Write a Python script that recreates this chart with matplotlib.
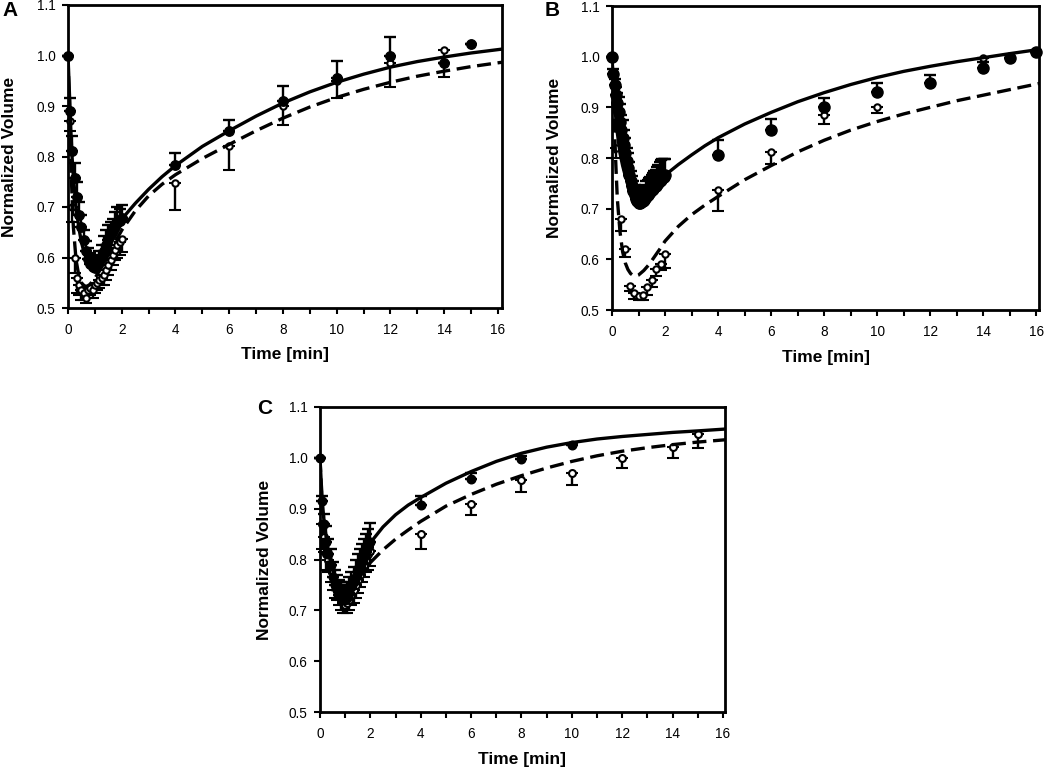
import matplotlib
matplotlib.use("Agg")
import matplotlib.pyplot as plt
import numpy as np

plt.rcParams['font.family'] = ['Liberation Sans', 'DejaVu Sans']

# ---------------- data ----------------
# dense early sampling (min)
t_early = [0.0, 0.083, 0.167, 0.25, 0.333, 0.417, 0.5, 0.583, 0.667, 0.75, 0.833, 0.917,
           1.0, 1.083, 1.167, 1.25, 1.333, 1.417, 1.5, 1.583, 1.667, 1.75, 1.833, 1.917, 2.0]
t_late = [4, 6, 8, 10, 12, 14, 15]

# model curve sample times
t_model = [0, 0.05, 0.1, 0.15, 0.2, 0.3, 0.4, 0.5, 0.6, 0.7, 0.8, 0.9, 1.0, 1.2, 1.4, 1.6,
           1.8, 2.0, 2.5, 3, 3.5, 4, 5, 6, 7, 8, 9, 10, 11, 12, 13, 14, 15, 16.2]

# ---- Panel A ----
A_model_solid = [1.0, 0.93, 0.86, 0.80, 0.76, 0.70, 0.66, 0.63, 0.61, 0.597, 0.59, 0.587, 0.588,
                 0.598, 0.615, 0.635, 0.656, 0.676, 0.707, 0.735, 0.760, 0.782, 0.82, 0.851, 0.880,
                 0.906, 0.928, 0.947, 0.963, 0.977, 0.988, 0.997, 1.005, 1.013]
A_model_dashed = [1.0, 0.90, 0.80, 0.72, 0.66, 0.595, 0.565, 0.55, 0.544, 0.543, 0.546, 0.552, 0.559,
                  0.576, 0.595, 0.615, 0.635, 0.654, 0.692, 0.722, 0.745, 0.764, 0.796, 0.824, 0.851,
                  0.876, 0.898, 0.917, 0.933, 0.947, 0.959, 0.969, 0.978, 0.987]
A_filled_t = t_early + t_late
A_filled = [1.0, 0.89, 0.81, 0.757, 0.72, 0.685, 0.66, 0.635, 0.612, 0.598, 0.588, 0.582, 0.58,
            0.585, 0.592, 0.60, 0.612, 0.625, 0.635, 0.645, 0.652, 0.66, 0.668, 0.672, 0.678,
            0.783, 0.85, 0.91, 0.955, 1.0, 0.985, 1.022]
A_filled_err = [0, 0.025, 0.03, 0.03, 0.03, 0.025, 0.025, 0.02, 0.02, 0.02, 0.02, 0.02, 0.02,
                0.02, 0.02, 0.025, 0.03, 0.03, 0.03, 0.025, 0.025, 0.03, 0.032, 0.025, 0.025,
                0.023, 0.023, 0.03, 0.035, 0.037, 0.0, 0.0]
A_open_t = t_early + [4, 6, 8, 10, 12, 14]
A_open = [1.0, 0.87, 0.70, 0.60, 0.56, 0.545, 0.535, 0.53, 0.52, 0.535, 0.54, 0.535, 0.545,
          0.55, 0.555, 0.56, 0.565, 0.575, 0.585, 0.595, 0.605, 0.615, 0.625, 0.63, 0.636,
          0.748, 0.82, 0.90, 0.95, 0.985, 1.01]
A_open_err = [0, 0.02, 0.03, 0.03, 0.03, 0.02, 0.02, 0.015, 0.01, 0.015, 0.015, 0.015, 0.015,
              0.015, 0.015, 0.015, 0.02, 0.02, 0.02, 0.02, 0.02, 0.02, 0.025, 0.025, 0.025,
              0.053, 0.047, 0.038, 0.035, 0.048, 0.052]

# ---- Panel B ----
B_model_solid = [1.0, 0.95, 0.91, 0.875, 0.85, 0.81, 0.785, 0.765, 0.752, 0.743, 0.738, 0.736,
                 0.736, 0.739, 0.745, 0.752, 0.759, 0.766, 0.787, 0.806, 0.824, 0.840, 0.867, 0.890,
                 0.911, 0.929, 0.945, 0.959, 0.971, 0.981, 0.990, 0.998, 1.006, 1.015]
B_model_dashed = [1.0, 0.93, 0.85, 0.78, 0.72, 0.655, 0.615, 0.593, 0.58, 0.572, 0.568, 0.567,
                  0.569, 0.578, 0.59, 0.605, 0.62, 0.636, 0.665, 0.688, 0.707, 0.724, 0.757, 0.785,
                  0.812, 0.835, 0.855, 0.872, 0.887, 0.900, 0.913, 0.924, 0.935, 0.948]
B_filled_t = [0.0, 0.05, 0.1, 0.15, 0.2, 0.25, 0.3, 0.35, 0.4, 0.45, 0.5, 0.55, 0.6, 0.65, 0.7,
              0.75, 0.8, 0.85, 0.9, 0.95, 1.0, 1.05, 1.1, 1.15, 1.2, 1.25, 1.3, 1.35, 1.4, 1.45,
              1.5, 1.55, 1.6, 1.65, 1.7, 1.75, 1.8, 1.85, 1.9, 1.95, 2.0,
              4, 6, 8, 10, 12, 14, 15, 16]
B_filled = [1.0, 0.965, 0.945, 0.925, 0.908, 0.89, 0.872, 0.855, 0.84, 0.825, 0.81, 0.795, 0.78,
            0.767, 0.755, 0.745, 0.735, 0.727, 0.72, 0.715, 0.712, 0.712, 0.713, 0.715, 0.718,
            0.721, 0.724, 0.727, 0.73, 0.733, 0.736, 0.739, 0.742, 0.745, 0.748, 0.751, 0.754,
            0.757, 0.76, 0.763, 0.766,
            0.805, 0.855, 0.90, 0.93, 0.948, 0.978, 0.997, 1.01]
B_filled_err = [0, 0.01, 0.01, 0.015, 0.02, 0.03, 0.035, 0.03, 0.035, 0.03, 0.03, 0.025, 0.03,
                0.025, 0.02, 0.02, 0.02, 0.02, 0.02, 0.02, 0.02, 0.02, 0.025, 0.025, 0.025,
                0.025, 0.03, 0.03, 0.03, 0.03, 0.03, 0.032, 0.032, 0.032, 0.035, 0.035, 0.038,
                0.04, 0.038, 0.035, 0.033,
                0.03, 0.022, 0.018, 0.018, 0.015, 0.012, 0.0, 0.0]
B_open_t = [0.0, 0.167, 0.333, 0.5, 0.667, 0.833, 1.0, 1.167, 1.333, 1.5, 1.667, 1.833, 2.0,
            4, 6, 8, 10, 14]
B_open = [1.0, 0.82, 0.68, 0.62, 0.548, 0.533, 0.528, 0.53, 0.545, 0.56, 0.58, 0.59, 0.61,
          0.737, 0.812, 0.885, 0.90, 0.998]
B_open_err = [0, 0.02, 0.025, 0.015, 0.01, 0.012, 0.008, 0.01, 0.015, 0.015, 0.012, 0.012, 0.027,
              0.041, 0.023, 0.017, 0.012, 0.0]

# ---- Panel C ----
C_model_solid = [1.0, 0.95, 0.91, 0.88, 0.86, 0.825, 0.80, 0.78, 0.765, 0.752, 0.745, 0.742,
                 0.742, 0.755, 0.774, 0.795, 0.815, 0.833, 0.864, 0.888, 0.907, 0.922, 0.950, 0.973,
                 0.993, 1.009, 1.021, 1.030, 1.037, 1.042, 1.046, 1.050, 1.053, 1.057]
C_model_dashed = [1.0, 0.94, 0.89, 0.855, 0.83, 0.795, 0.77, 0.752, 0.74, 0.733, 0.73, 0.73,
                  0.732, 0.741, 0.754, 0.768, 0.781, 0.794, 0.819, 0.840, 0.858, 0.875, 0.905, 0.928,
                  0.948, 0.965, 0.980, 0.993, 1.004, 1.013, 1.020, 1.026, 1.031, 1.036]
C_filled_t = t_early + [4, 6, 8, 10]
C_filled = [1.0, 0.915, 0.87, 0.835, 0.81, 0.79, 0.765, 0.75, 0.74, 0.73, 0.725, 0.72, 0.72,
            0.725, 0.735, 0.745, 0.755, 0.765, 0.775, 0.785, 0.795, 0.805, 0.815, 0.825, 0.835,
            0.908, 0.958, 0.998, 1.025]
C_filled_err = [0, 0.01, 0.02, 0.03, 0.03, 0.03, 0.03, 0.03, 0.03, 0.03, 0.03, 0.03, 0.03,
                0.03, 0.03, 0.03, 0.03, 0.035, 0.035, 0.035, 0.035, 0.035, 0.035, 0.035, 0.037,
                0.017, 0.012, 0.005, 0.003]
C_open_t = t_early + [4, 6, 8, 10, 12, 14, 15]
C_open = [1.0, 0.87, 0.845, 0.81, 0.80, 0.78, 0.765, 0.75, 0.74, 0.73, 0.72, 0.715, 0.71,
          0.715, 0.72, 0.73, 0.74, 0.75, 0.76, 0.77, 0.78, 0.79, 0.80, 0.81, 0.817,
          0.85, 0.91, 0.956, 0.97, 1.0, 1.022, 1.047]
C_open_err = [0, 0.05, 0.03, 0.03, 0.025, 0.025, 0.025, 0.025, 0.02, 0.02, 0.02, 0.02, 0.015,
              0.02, 0.02, 0.02, 0.025, 0.025, 0.025, 0.025, 0.025, 0.025, 0.025, 0.03, 0.03,
              0.03, 0.022, 0.023, 0.023, 0.02, 0.022, 0.027]

x_ticks = [0, 2, 4, 6, 8, 10, 12, 14, 16]
y_ticks = [0.5, 0.6, 0.7, 0.8, 0.9, 1.0, 1.1]
y_ticklabels = ['0.5', '0.6', '0.7', '0.8', '0.9', '1.0', '1.1']

# ---------------- figure ----------------
W, H = 1050, 771
fig = plt.figure(figsize=(W / 100, H / 100), dpi=100)


def px_axes(left, top, right, bottom):
    return fig.add_axes([left / W, 1 - bottom / H, (right - left) / W, (bottom - top) / H])


def draw_panel(ax, xmax, ms_f, ms_o, ft, fv, fe, ot, ov, oe, ms_solid, ms_dash):
    zeros_f = [0] * len(fe)
    zeros_o = [0] * len(oe)
    ax.errorbar(ot, ov, yerr=[oe, zeros_o], fmt='o', ms=ms_o, mfc='white', mec='black',
                mew=1.5, ecolor='black', elinewidth=1.7, capsize=4.2, capthick=1.7,
                color='black', zorder=3, clip_on=False)
    ax.errorbar(ft, fv, yerr=[zeros_f, fe], fmt='o', ms=ms_f, mfc='black', mec='black',
                ecolor='black', elinewidth=1.7, capsize=4.2, capthick=1.7,
                color='black', zorder=4, clip_on=False)
    ax.plot(t_model, ms_solid, color='black', lw=2.4, zorder=5)
    ax.plot(t_model, ms_dash, color='black', lw=2.4, dashes=(4.2, 2), zorder=5)
    ax.set_xlim(0, xmax)
    ax.set_ylim(0.5, 1.1)
    ax.set_xticks(x_ticks)
    ax.set_xticks(list(range(0, 17)), minor=True)
    ax.set_yticks(y_ticks)
    ax.set_yticklabels(y_ticklabels)
    ax.tick_params(axis='both', which='both', direction='out', length=4, width=1.5,
                   labelsize=9.8, colors='black')
    ax.tick_params(axis='x', which='both', pad=6.5)
    ax.tick_params(axis='y', which='both', pad=5)
    for s in ax.spines.values():
        s.set_linewidth(2.0)
    ax.set_xlabel('Time [min]', fontsize=12.5, fontweight='bold')
    ax.set_ylabel('Normalized Volume', fontsize=12.5, fontweight='bold')
    ax.xaxis.set_label_coords(0.5, -0.13)
    ax.yaxis.set_label_coords(-0.118, 0.5)


axA = px_axes(68, 5, 502, 308)
draw_panel(axA, 16.15, 6.8, 4.6, A_filled_t, A_filled, A_filled_err,
           A_open_t, A_open, A_open_err, A_model_solid, A_model_dashed)

axB = px_axes(612, 6, 1039, 310)
draw_panel(axB, 16.1, 8, 4.6, B_filled_t, B_filled, B_filled_err,
           B_open_t, B_open, B_open_err, B_model_solid, B_model_dashed)

axC = px_axes(320, 407, 725, 712)
draw_panel(axC, 16.08, 6.2, 5, C_filled_t, C_filled, C_filled_err,
           C_open_t, C_open, C_open_err, C_model_solid, C_model_dashed)

fig.text(2 / W, 1 - 1 / H, 'A', fontsize=15, fontweight='bold', ha='left', va='top')
fig.text(545 / W, 1 - 1 / H, 'B', fontsize=15, fontweight='bold', ha='left', va='top')
fig.text(257 / W, 1 - 399 / H, 'C', fontsize=15, fontweight='bold', ha='left', va='top')

fig.savefig('out.png', dpi=100)
